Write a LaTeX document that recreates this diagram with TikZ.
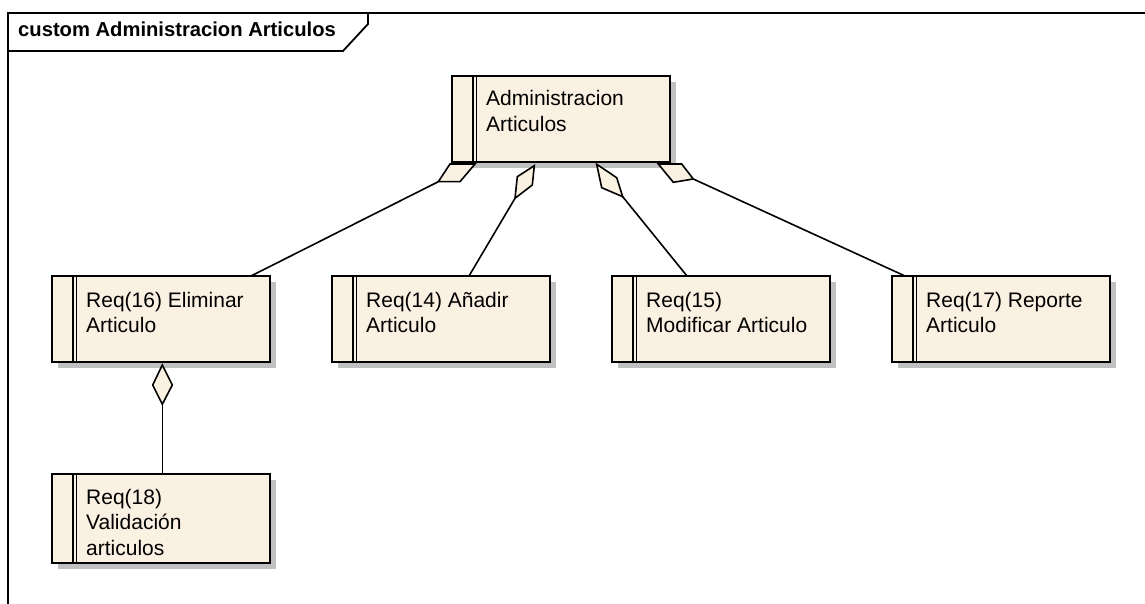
\documentclass[tikz,border=0pt]{standalone}
\usepackage{fontspec}
\setmainfont{Liberation Sans}
\usetikzlibrary{shadows}
\definecolor{boxfill}{RGB}{251,241,227}
\definecolor{shadowgrey}{RGB}{192,192,192}
\begin{document}
\begin{tikzpicture}[x=1pt,y=-1pt,
  box/.style={draw=black, line width=1.8pt, fill=boxfill, minimum width=218pt, minimum height=86pt,
    anchor=north west, inner sep=0pt, outer sep=0pt,
    drop shadow={shadow xshift=6pt, shadow yshift=-6pt, opacity=1, fill=shadowgrey}},
  bar/.style={line width=1.4pt},
  txt/.style={anchor=base west, inner sep=0pt, align=left, font=\fontsize{21}{25.5}\selectfont},
  conn/.style={line width=1.6pt},
  diam/.style={draw=black, line width=1.6pt, fill=boxfill, line join=miter},
  frame/.style={line width=1.8pt}
]
\useasboundingbox (0,0) rectangle (1145,604);

% frame
\draw[frame] (8,604) -- (8,13) -- (1145,13);
\draw[frame] (8,51) -- (343,51) -- (368,24) -- (368,13);
\node[anchor=base west, inner sep=0pt, font=\fontsize{20.2}{24}\selectfont\bfseries] (title) at (18,37) {custom Administracion Articulos};

% boxes
\node[box] (top) at (452,76) {};
\node[box] (b1) at (52,276) {};
\node[box] (b2) at (332,276) {};
\node[box] (b3) at (612,276) {};
\node[box] (b4) at (892,276) {};
\node[box, minimum height=89pt] (b5) at (52,474) {};

\foreach \b in {top,b1,b2,b3,b4,b5}{
  \draw[bar] ([xshift=21pt]\b.north west) -- ([xshift=21pt]\b.south west);
  \draw[bar] ([xshift=24.5pt]\b.north west) -- ([xshift=24.5pt]\b.south west);
}

% text (node base = baseline of last line)
\node[txt] (ttop) at ([xshift=34pt,yshift=-55.5pt]top.north west) {Administracion\\Articulos};
\node[txt] (t1) at ([xshift=34pt,yshift=-56.5pt]b1.north west) {Req(16) Eliminar\\Articulo};
\node[txt] (t2) at ([xshift=34pt,yshift=-56.5pt]b2.north west) {Req(14) Añadir\\Articulo};
\node[txt] (t3) at ([xshift=34pt,yshift=-56.5pt]b3.north west) {Req(15)\\Modificar Articulo};
\node[txt] (t4) at ([xshift=34pt,yshift=-56.5pt]b4.north west) {Req(17) Reporte\\Articulo};
\node[txt] (t5) at ([xshift=34pt,yshift=-81pt]b5.north west) {Req(18)\\Validación\\articulos};

% diamonds
\coordinate (d1h) at (475,164);   \coordinate (d1a) at (450,164);
\coordinate (d1t) at (438.3,181.7); \coordinate (d1b) at (460,181.7);
\coordinate (d2h) at (534.3,165.7); \coordinate (d2a) at (517.3,176.7);
\coordinate (d2t) at (515,198.3);   \coordinate (d2b) at (532.3,185);
\coordinate (d3h) at (596.7,164.3); \coordinate (d3a) at (616.7,177.7);
\coordinate (d3t) at (622.7,196.7); \coordinate (d3b) at (601.7,187.7);
\coordinate (d4h) at (658.3,164);   \coordinate (d4a) at (681.7,164);
\coordinate (d4t) at (693.3,179);   \coordinate (d4b) at (673.3,182.3);
\coordinate (d5h) at (162.3,365);   \coordinate (d5a) at (172.3,385);
\coordinate (d5t) at (162.3,404.3); \coordinate (d5b) at (152.7,385);

\foreach \d in {d1,d2,d3,d4,d5}{
  \draw[diam] (\d h) -- (\d a) -- (\d t) -- (\d b) -- cycle;
}

% connectors
\draw[conn] (d1t) -- ([xshift=199pt]b1.north west);
\draw[conn] (d2t) -- ([xshift=137pt]b2.north west);
\draw[conn] (d3t) -- ([xshift=75pt]b3.north west);
\draw[conn] (d4t) -- ([xshift=13pt]b4.north west);
\draw[conn] (d5t) -- (d5t |- b5.north);
\end{tikzpicture}
\end{document}
